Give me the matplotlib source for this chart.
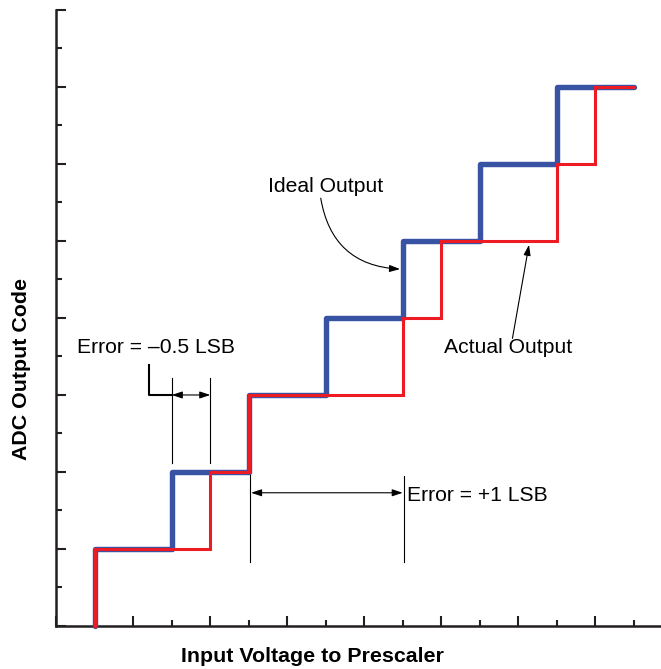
import matplotlib
matplotlib.use('Agg')
import matplotlib.pyplot as plt

plt.rcParams['font.family'] = ['Liberation Sans', 'DejaVu Sans']

# step outputs (x = input steps, y = output code)
ideal_x = [1, 1, 3, 3, 5, 5, 7, 7, 9, 9, 11, 11, 13, 13, 15]
ideal_y = [0, 2, 2, 4, 4, 6, 6, 8, 8, 10, 10, 12, 12, 14, 14]
actual_x = [1, 1, 4, 4, 5, 5, 9, 9, 10, 10, 13, 13, 14, 14, 15]
actual_y = [0, 2, 2, 4, 4, 6, 6, 8, 8, 10, 10, 12, 12, 14, 14]

x_major = list(range(0, 15, 2))
x_minor = list(range(1, 16, 2))
y_major = list(range(0, 17, 2))
y_minor = list(range(1, 16, 2))

blue = '#3953a4'
red = '#ed1c24'

fig = plt.figure(figsize=(6.61, 6.69), dpi=100)
ax = fig.add_axes([0.0852, 0.0643, 0.9148, 0.9208])

for s in ['top', 'right']:
    ax.spines[s].set_visible(False)
for s in ['left', 'bottom']:
    ax.spines[s].set_linewidth(1.8)
    ax.spines[s].set_color('#231f20')

ax.set_xticks(x_major)
ax.set_xticks(x_minor, minor=True)
ax.set_yticks(y_major)
ax.set_yticks(y_minor, minor=True)
ax.tick_params(which='both', direction='in', labelbottom=False, labelleft=False,
               color='#231f20', width=1.5)
ax.tick_params(which='major', length=7)
ax.tick_params(which='minor', length=4.5)
ax.set_xlim(0, 15.71)
ax.set_ylim(0, 16)

ax.plot(ideal_x, ideal_y, color=blue, lw=3.9, solid_joinstyle='round',
        solid_capstyle='round', clip_on=False, zorder=3)
ax.plot(actual_x, actual_y, color=red, lw=2.2, solid_joinstyle='miter',
        clip_on=False, zorder=4)

fs = 15.2
thin = 0.8
arrow_style = '-|>,head_length=0.45,head_width=0.15'
double_style = '<|-|>,head_length=0.45,head_width=0.15'

# Error = -0.5 LSB
ax.text(0.55, 7.24, 'Error = \u20130.5 LSB', fontsize=fs, va='center', ha='left')
ax.plot([2.42, 2.42, 3.0], [6.78, 6.0, 6.0], color='black', lw=1.5)
ax.plot([3, 3], [4.24, 6.45], color='black', lw=thin)
ax.plot([4, 4], [4.24, 6.45], color='black', lw=thin)
ax.annotate('', xy=(4, 6.0), xytext=(3, 6.0),
            arrowprops=dict(arrowstyle=double_style, color='black', lw=thin,
                            shrinkA=0, shrinkB=0, mutation_scale=14))

# Error = +1 LSB
ax.plot([5.03, 5.03], [1.67, 3.95], color='black', lw=thin)
ax.plot([9.03, 9.03], [1.67, 3.9], color='black', lw=thin)
ax.annotate('', xy=(9.0, 3.46), xytext=(5.06, 3.46),
            arrowprops=dict(arrowstyle=double_style, color='black', lw=thin,
                            shrinkA=0, shrinkB=0, mutation_scale=14))
ax.text(9.1, 3.4, 'Error = +1 LSB', fontsize=fs, va='center', ha='left')

# Ideal Output
ax.text(7.0, 11.41, 'Ideal Output', fontsize=fs, va='center', ha='center')
ax.annotate('', xy=(8.93, 9.27), xytext=(6.87, 11.11),
            arrowprops=dict(arrowstyle=arrow_style, color='black', lw=thin,
                            shrinkA=0, shrinkB=0, mutation_scale=14,
                            connectionstyle='arc3,rad=0.4'))

# Actual Output
ax.text(11.75, 7.24, 'Actual Output', fontsize=fs, va='center', ha='center')
ax.annotate('', xy=(12.28, 9.9), xytext=(11.85, 7.47),
            arrowprops=dict(arrowstyle=arrow_style, color='black', lw=thin,
                            shrinkA=0, shrinkB=0, mutation_scale=14))

fig.text(22 / 661, 1 - 368.5 / 669, 'ADC Output Code', rotation=90, fontsize=15.4,
         fontweight='bold', ha='center', va='center')
fig.text(312.5 / 661, 1 - 656 / 669, 'Input Voltage to Prescaler', fontsize=15.4,
         fontweight='bold', ha='center', va='center')

fig.savefig('out.png', dpi=100)
